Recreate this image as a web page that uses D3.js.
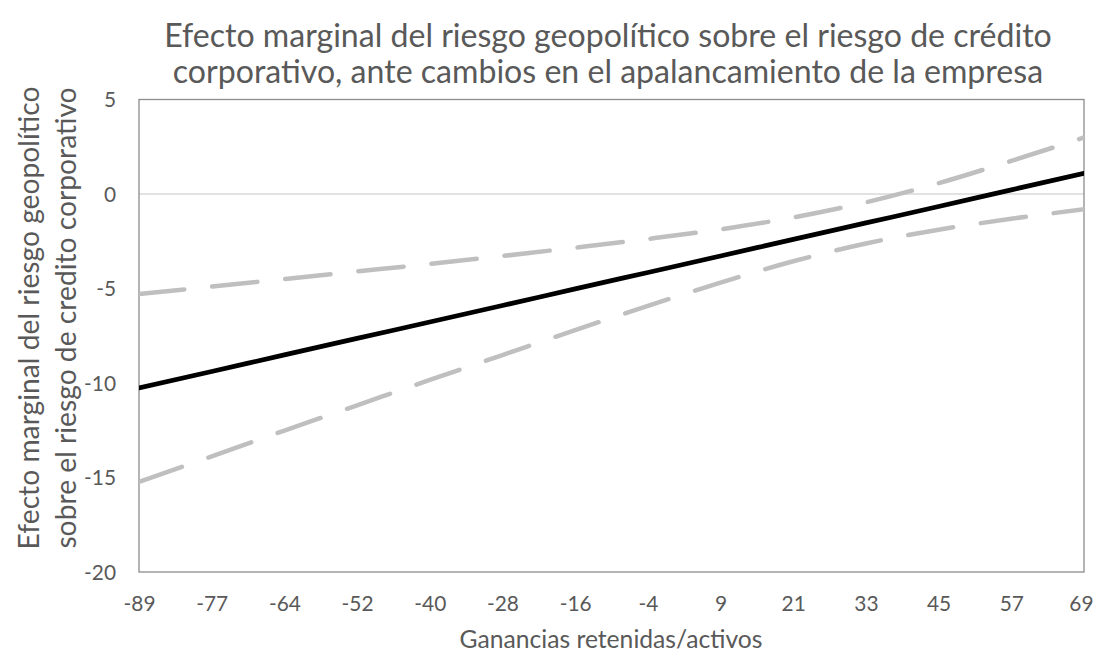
<!DOCTYPE html>
<html>
<head>
<meta charset="utf-8">
<script src="https://cdn.jsdelivr.net/npm/d3@7"></script>
<style>
  body { margin: 0; background: #ffffff; }
  svg text { font-family: Lato, "Open Sans", sans-serif; fill: #595959; }
</style>
</head>
<body>
<svg id="chart" width="1096" height="655"></svg>
<script>
// Ganancias retenidas/activos (category axis)
const categories = ["-89", "-77", "-64", "-52", "-40", "-28", "-16", "-4", "9", "21", "33", "45", "57", "69"];

// Marginal effect and its confidence bounds at each category
const efecto = [-10.26, -9.39, -8.51, -7.64, -6.77, -5.90, -5.02, -4.15, -3.28, -2.40, -1.53, -0.66, 0.22, 1.09];
const limiteSuperior = [-5.29, -4.90, -4.50, -4.10, -3.70, -3.28, -2.84, -2.38, -1.87, -1.24, -0.44, 0.57, 1.75, 2.99];
const limiteInferior = [-15.23, -13.88, -12.52, -11.18, -9.84, -8.52, -7.20, -5.92, -4.69, -3.56, -2.62, -1.89, -1.31, -0.81];

const yTicks = [5, 0, -5, -10, -15, -20];
const yDomain = [-20, 5];

const titleLines = [
  "Efecto marginal del riesgo geopolítico sobre el riesgo de crédito",
  "corporativo, ante cambios en el apalancamiento de la empresa"
];
const yTitleLines = [
  "Efecto marginal del riesgo geopolítico",
  "sobre el riesgo de credito corporativo"
];
const xTitle = "Ganancias retenidas/activos";

const W = 1096, H = 655;
const plot = { left: 139, right: 1084, top: 99.5, bottom: 572 };

const svg = d3.select("#chart");

const x = d3.scalePoint().domain(categories).range([plot.left, plot.right]);
const y = d3.scaleLinear().domain(yDomain).range([plot.bottom, plot.top]);

// Size a text element so its rendered width matches a target length
function fitFont(sel, target) {
  sel.style("font-size", "100px");
  const w = sel.node().getComputedTextLength();
  const size = 100 * target / w;
  sel.style("font-size", size + "px");
  return size;
}

// Horizontal axis line at zero
svg.append("line")
  .attr("x1", plot.left).attr("x2", plot.right)
  .attr("y1", y(0)).attr("y2", y(0))
  .attr("stroke", "#d9d9d9").attr("stroke-width", 1.3);

// Plot frame
svg.append("rect")
  .attr("x", plot.left).attr("y", plot.top)
  .attr("width", plot.right - plot.left).attr("height", plot.bottom - plot.top)
  .attr("fill", "none").attr("stroke", "#8c8c8c").attr("stroke-width", 1.3);

const line = d3.line()
  .x((d, i) => x(categories[i]))
  .y(d => y(d))
  .curve(d3.curveMonotoneX);

svg.append("clipPath").attr("id", "plotClip")
  .append("rect")
  .attr("x", plot.left).attr("y", plot.top)
  .attr("width", plot.right - plot.left).attr("height", plot.bottom - plot.top);

const g = svg.append("g").attr("clip-path", "url(#plotClip)");

[limiteSuperior, limiteInferior].forEach(s => {
  g.append("path")
    .attr("d", line(s))
    .attr("fill", "none")
    .attr("stroke", "#bfbfbf")
    .attr("stroke-width", 4.5)
    .attr("stroke-linecap", "round")
    .attr("stroke-dasharray", "45.5 28");
});

g.append("path")
  .attr("d", line(efecto))
  .attr("fill", "none")
  .attr("stroke", "#000000")
  .attr("stroke-width", 4.7)
  .attr("stroke-linecap", "round");

// Category axis labels
const xAxis = svg.append("g")
  .attr("transform", `translate(0,${plot.bottom})`)
  .call(d3.axisBottom(x).tickSize(0).tickPadding(0));
xAxis.select(".domain").remove();
const xLabels = xAxis.selectAll("text")
  .attr("y", 0).attr("dy", 0)
  .attr("transform", "translate(0,38.5)");
let tickFont = null;
xLabels.filter((d, i) => i === 0).each(function () { tickFont = fitFont(d3.select(this), 32); });
xLabels.style("font-size", tickFont + "px");
// Keep the last label inside the chart area
xLabels.filter((d, i) => i === categories.length - 1).each(function () {
  const w = this.getComputedTextLength();
  const cx = Math.min(plot.right, W - 3 - w / 2);
  d3.select(this).attr("x", cx - plot.right);
});

// Value axis labels
const yAxis = svg.append("g")
  .attr("transform", `translate(${plot.left},0)`)
  .call(d3.axisLeft(y).tickValues(yTicks).tickSize(0).tickPadding(23).tickFormat(d => String(d)));
yAxis.select(".domain").remove();
yAxis.selectAll("text").attr("dy", "0.35em").style("font-size", tickFont + "px");

// Chart title
const tFirst = svg.append("text")
  .attr("x", 608).attr("y", 47)
  .attr("text-anchor", "middle")
  .text(titleLines[0]);
const tSize = fitFont(tFirst, 888);
svg.append("text")
  .attr("x", 608).attr("y", 83)
  .attr("text-anchor", "middle")
  .style("font-size", tSize + "px")
  .text(titleLines[1]);

// Value axis title (two rotated lines)
const yt1 = svg.append("text")
  .attr("transform", "translate(39,318) rotate(-90)")
  .attr("text-anchor", "middle")
  .text(yTitleLines[0]);
const ytSize = fitFont(yt1, 463);
svg.append("text")
  .attr("transform", "translate(76,318) rotate(-90)")
  .attr("text-anchor", "middle")
  .style("font-size", ytSize + "px")
  .text(yTitleLines[1]);

// Category axis title
const xt = svg.append("text")
  .attr("x", 611).attr("y", 648)
  .attr("text-anchor", "middle")
  .text(xTitle);
fitFont(xt, 303);
</script>
</body>
</html>
